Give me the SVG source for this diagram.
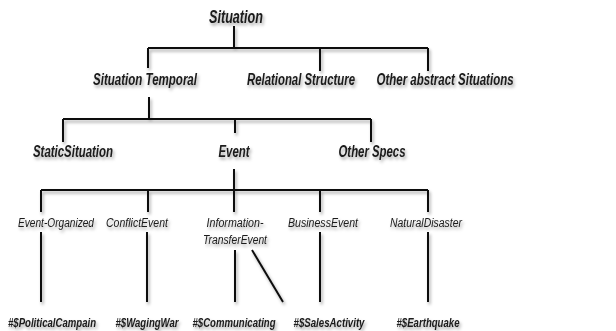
<svg xmlns="http://www.w3.org/2000/svg" width="616" height="331" viewBox="0 0 616 331">
<defs>
<filter id="sh" x="-10%" y="-10%" width="130%" height="150%">
<feDropShadow dx="1.5" dy="2.5" stdDeviation="1.5" flood-color="#000" flood-opacity="0.35"/>
</filter>
<style>
text{font-family:"Liberation Sans",Arial,sans-serif;font-style:italic;fill:#1a1a1a;text-anchor:middle;}
.l1{font-size:18px;font-weight:bold;}
.l2{font-size:17px;font-weight:bold;}
.l4{font-size:12.5px;}
.l5{font-size:13.5px;font-weight:bold;}
.c{stroke:#111;stroke-width:2;fill:none;}
</style>
</defs>
<rect width="616" height="331" fill="#fff"/>
<g id="connectors" class="c" filter="url(#sh)">
<path d="M234,26V48M148,48H428M148,48V68M320,48V71M428,48V71"/>
<path d="M149,97V119M63,119H371M63,119V142M235,119V133M371,119V142"/>
<path d="M234,169V212M41,190H428M41,190V212M148,190V212M320,190V212M428,190V212"/>
<path d="M41,232V302M147,232V302M235,250V302M252,250L283,302M320,232V302M428,232V302"/>
</g>
<g filter="url(#sh)">
<g id="n-situation"><text class="l1" transform="translate(236,23) scale(0.7,1)" textLength="77.1" lengthAdjust="spacingAndGlyphs">Situation</text></g>
<g id="n-situation-temporal"><text class="l2" transform="translate(145,85) scale(0.67,1)" textLength="155.2" lengthAdjust="spacingAndGlyphs">Situation Temporal</text></g>
<g id="n-relational-structure"><text class="l2" transform="translate(301,85) scale(0.67,1)" textLength="161.2" lengthAdjust="spacingAndGlyphs">Relational Structure</text></g>
<g id="n-other-abstract"><text class="l2" transform="translate(445,85) scale(0.67,1)" textLength="204.5" lengthAdjust="spacingAndGlyphs">Other abstract Situations</text></g>
<g id="n-static"><text class="l2" transform="translate(73,157) scale(0.67,1)" textLength="119.4" lengthAdjust="spacingAndGlyphs">StaticSituation</text></g>
<g id="n-event"><text class="l2" transform="translate(234,157) scale(0.67,1)" textLength="46.3" lengthAdjust="spacingAndGlyphs">Event</text></g>
<g id="n-other-specs"><text class="l2" transform="translate(372,157) scale(0.67,1)" textLength="100" lengthAdjust="spacingAndGlyphs">Other Specs</text></g>
<g id="n-event-organized"><text class="l4" transform="translate(56,227) scale(0.82,1)" textLength="92.7" lengthAdjust="spacingAndGlyphs">Event-Organized</text></g>
<g id="n-conflict"><text class="l4" transform="translate(137,227) scale(0.82,1)" textLength="75.6" lengthAdjust="spacingAndGlyphs">ConflictEvent</text></g>
<g id="n-info"><text class="l4" transform="translate(235,227) scale(0.82,1)" textLength="69.5" lengthAdjust="spacingAndGlyphs">Information-</text><text class="l4" transform="translate(235,244) scale(0.82,1)" textLength="78" lengthAdjust="spacingAndGlyphs">TransferEvent</text></g>
<g id="n-business"><text class="l4" transform="translate(323,227) scale(0.82,1)" textLength="85.4" lengthAdjust="spacingAndGlyphs">BusinessEvent</text></g>
<g id="n-natural"><text class="l4" transform="translate(426,227) scale(0.82,1)" textLength="87.8" lengthAdjust="spacingAndGlyphs">NaturalDisaster</text></g>
<g id="n-political"><text class="l5" transform="translate(52,327) scale(0.7,1)" textLength="125.7" lengthAdjust="spacingAndGlyphs">#$PoliticalCampain</text></g>
<g id="n-waging"><text class="l5" transform="translate(147,327) scale(0.7,1)" textLength="90" lengthAdjust="spacingAndGlyphs">#$WagingWar</text></g>
<g id="n-communicating"><text class="l5" transform="translate(234,327) scale(0.7,1)" textLength="118.6" lengthAdjust="spacingAndGlyphs">#$Communicating</text></g>
<g id="n-sales"><text class="l5" transform="translate(329,327) scale(0.7,1)" textLength="101.4" lengthAdjust="spacingAndGlyphs">#$SalesActivity</text></g>
<g id="n-earthquake"><text class="l5" transform="translate(428,327) scale(0.7,1)" textLength="90" lengthAdjust="spacingAndGlyphs">#$Earthquake</text></g>
</g>
</svg>
